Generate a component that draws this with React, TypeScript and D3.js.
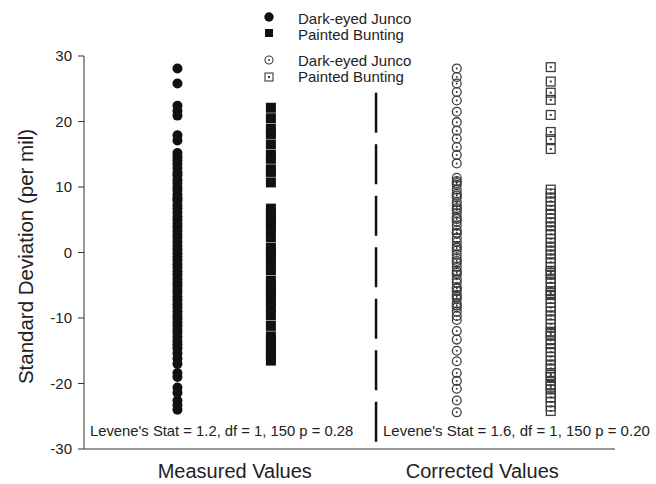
import React from 'react';
import * as d3 from 'd3';

const yTicks = [-30, -20, -10, 0, 10, 20, 30];
const groupLabels = ['Measured Values', 'Corrected Values'];
const legendLabels = ['Dark-eyed Junco', 'Painted Bunting', 'Dark-eyed Junco', 'Painted Bunting'];
const leveneTexts = [
  "Levene's Stat = 1.2, df = 1, 150 p = 0.28",
  "Levene's Stat = 1.6, df = 1, 150 p = 0.20",
];
const yTitle = 'Standard Deviation (per mil)';

const measuredJunco = [
  28.1, 25.8, 22.4, 21.6, 20.9, 17.9, 17.1, 15.2, 14.6, 14.1, 13.5, 12.9, 12.2, 11.8, 11.1,
  10.6, 10.0, 9.5, 8.8, 8.3, 7.9, 7.2, 6.7, 6.1, 5.5, 5.0, 4.4, 3.9, 3.3, 2.7, 2.2, 1.6, 1.0,
  0.5, -0.1, -0.7, -1.2, -1.8, -2.3, -2.9, -3.4, -4.0, -4.6, -5.1, -5.7, -6.2, -6.8, -7.3,
  -7.9, -8.4, -9.0, -9.6, -10.1, -10.7, -11.2, -11.8, -12.3, -12.9, -13.5, -14.0, -14.6,
  -15.4, -16.2, -17.0, -18.4, -19.0, -20.6, -21.4, -22.6, -23.3, -24.0,
];
const measuredBunting = [
  22.1, 20.5, 18.9, 18.1, 16.5, 14.9, 14.3, 12.7, 12.3, 10.7, 6.7, 5.9, 5.1, 4.3, 3.5, 2.3,
  0.7, 0.0, -0.8, -1.6, -2.7, -4.3, -5.1, -5.9, -6.7, -7.5, -8.5, -9.6, -11.2, -12.8, -13.5,
  -14.3, -15.1, -15.8, -16.5,
];
const correctedJunco = [
  28.1, 26.8, 25.8, 24.5, 23.2, 21.5, 19.9, 18.6, 17.4, 16.1, 14.9, 13.6,
  11.4, 10.9, 10.6, 10.3, 9.6, 9.0, 8.7, 8.4, 7.7, 7.2, 6.8, 6.5, 6.0, 5.4, 5.1, 4.7, 4.1, 3.4,
  3.0, 2.9, 2.2, 1.6, 1.0, 0.7, 0.3, -0.3, -0.9, -1.3, -1.6, -2.2, -2.8, -3.1, -3.4, -4.1,
  -4.6, -5.3, -5.5, -5.9, -6.5, -6.8, -7.1, -7.8, -8.1, -8.4, -9.0, -9.7, -10.3,
  -12.0, -13.3, -15.0, -16.6, -18.4, -19.6, -20.8, -22.6, -24.4,
];
const correctedBunting = [
  28.3, 26.1, 24.4, 23.3, 21.0, 18.4, 17.3, 15.8,
  9.6, 9.0, 8.4, 7.8, 7.1, 6.5, 5.9, 5.2, 4.6, 4.0, 3.4, 2.8, 2.1, 1.5, 0.9, 0.3, -0.3, -0.9,
  -1.5, -2.2, -2.8, -3.1, -3.4, -4.0, -4.6, -5.3, -5.9, -6.2, -6.5, -7.1, -7.7, -8.4, -9.0,
  -9.6, -10.2, -10.9, -11.5, -12.1, -12.4, -12.7, -13.4, -14.0, -14.6, -15.2, -15.9, -16.5,
  -17.1, -17.7, -18.4, -18.7, -19.0, -19.6, -20.2, -20.5, -20.9, -21.5, -22.1, -22.8, -23.5,
  -24.2,
];
const dividerTop = 24.4;

const W = 656;
const H = 484;
const FONT = "'Liberation Sans', Arial, Helvetica, sans-serif";

export default function App() {
  const y = d3.scaleLinear().domain([-30, 30]).range([449, 56]);
  const x = d3.scaleLinear().domain([0, 1]).range([84, 615]);
  const col = { mJ: x(0.176), mB: x(0.352), div: x(0.55), cJ: x(0.702), cB: x(0.879) };
  const labelX = [x(0.284), x(0.75)];
  const ink = '#111';
  const gray = '#3c3c3c';

  return (
    <svg width={W} height={H} style={{ position: 'absolute', left: 0, top: 0, background: '#fff' }} fontFamily={FONT}>
      <rect width={W} height={H} fill="#fff" />
      {/* axes */}
      <line x1={x(0)} x2={x(0)} y1={y(30)} y2={y(-30)} stroke="#333" strokeWidth={1} />
      <line x1={x(0)} x2={x(1)} y1={y(-30)} y2={y(-30)} stroke="#333" strokeWidth={1} />
      {yTicks.map((t) => (
        <g key={t}>
          <line x1={x(0) - 6} x2={x(0)} y1={y(t)} y2={y(t)} stroke="#333" strokeWidth={1} />
          <text x={x(0) - 12} y={y(t)} dy="0.35em" textAnchor="end" fontSize={15} fill="#222">{t}</text>
        </g>
      ))}
      <text transform={`translate(33,${(y(30) + y(-30)) / 2 + 4}) rotate(-90)`} textAnchor="middle" fontSize={20.5} fill="#222">{yTitle}</text>
      {groupLabels.map((g, i) => (
        <text key={g} x={labelX[i]} y={478} textAnchor="middle" fontSize={20} fill="#222">{g}</text>
      ))}
      {/* divider */}
      <line x1={col.div} x2={col.div} y1={y(dividerTop)} y2={y(-30)} stroke={ink} strokeWidth={2.5} strokeDasharray="40,11.5" />
      {/* Levene texts */}
      <text x={90} y={436} fontSize={14.8} fill="#222">{leveneTexts[0]}</text>
      <text x={383} y={436} fontSize={15} fill="#222">{leveneTexts[1]}</text>
      {/* measured junco */}
      {measuredJunco.map((v, i) => (
        <circle key={'mj' + i} cx={col.mJ} cy={y(v)} r={5} fill={ink} />
      ))}
      {measuredBunting.map((v, i) => (
        <rect key={'mb' + i} x={col.mB - 5} y={y(v) - 5} width={10} height={10} fill={ink} />
      ))}
      {correctedJunco.map((v, i) => (
        <g key={'cj' + i}>
          <circle cx={col.cJ} cy={y(v)} r={4.4} fill="none" stroke={gray} strokeWidth={1.3} />
          <circle cx={col.cJ} cy={y(v)} r={1} fill={gray} />
        </g>
      ))}
      {correctedBunting.map((v, i) => (
        <g key={'cb' + i}>
          <rect x={col.cB - 4.4} y={y(v) - 4.4} width={8.8} height={8.8} fill="none" stroke={gray} strokeWidth={1.3} />
          <rect x={col.cB - 1} y={y(v) - 1} width={2} height={2} fill={gray} />
        </g>
      ))}
      {/* legend */}
      <g>
        <circle cx={269} cy={17} r={4.7} fill={ink} />
        <rect x={265} y={29} width={8} height={8} fill={ink} />
        <circle cx={269} cy={60} r={4} fill="none" stroke={gray} strokeWidth={1.1} />
        <circle cx={269} cy={60} r={1} fill={gray} />
        <rect x={265} y={73} width={8} height={8} fill="none" stroke={gray} strokeWidth={1.1} />
        <rect x={268} y={76} width={2} height={2} fill={gray} />
        {legendLabels.map((l, i) => (
          <text key={i} x={298} y={[19, 35, 61, 77][i]} dy="0.35em" fontSize={15} fill="#222">{l}</text>
        ))}
      </g>
    </svg>
  );
}
